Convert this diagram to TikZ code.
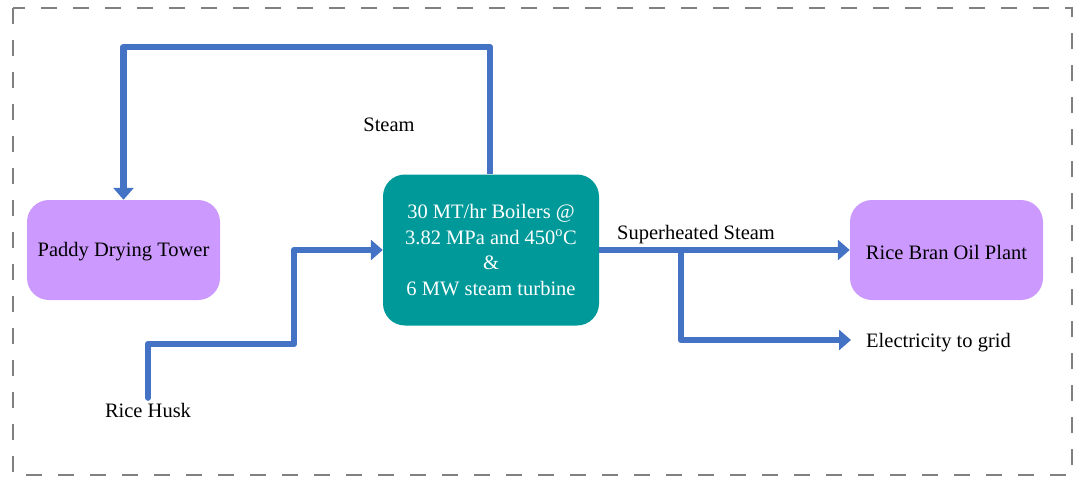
\documentclass[tikz,border=0pt]{standalone}
\usepackage{fontspec}
\setmainfont{Liberation Serif}
\usetikzlibrary{arrows.meta}
\definecolor{flow}{RGB}{68,114,196}
\definecolor{lilac}{RGB}{204,153,255}
\definecolor{tealbox}{RGB}{0,153,153}
\definecolor{frame}{RGB}{128,128,128}
\begin{document}
\begin{tikzpicture}[x=1pt,y=-1pt,
  box/.style={rounded corners=22pt, inner sep=0pt, align=center,
    font=\fontsize{20.5}{25}\selectfont},
  lbl/.style={font=\fontsize{20.5}{25}\selectfont, inner sep=0pt},
  flowline/.style={draw=flow, line width=6.5pt, line join=round,
    -{Triangle[width=20pt,length=12pt]}}]
\useasboundingbox (0,0) rectangle (1073,477);
\draw[frame, line width=1.5pt, dash pattern=on 16pt off 16pt] (13,8) rectangle (1072,475);

\node[box, fill=lilac, minimum width=193pt, minimum height=100pt] (paddy) at (123.5,250) {\raisebox{-2pt}[\height][\depth]{Paddy Drying Tower}};
\node[box, fill=tealbox, text=white, minimum width=216pt, minimum height=151pt] (boiler) at (491,250)
  {\raisebox{-2pt}[\height][\depth]{\begin{tabular}{@{}c@{}}30 MT/hr Boilers @\\[0.7pt]3.82 MPa and 450\textsuperscript{o}C\\[0.7pt]\&\\[0.7pt]6 MW steam turbine\end{tabular}}};
\node[box, fill=lilac, minimum width=193pt, minimum height=100pt] (rbo) at (946.5,250) {\raisebox{-2pt}[\height][\depth]{Rice Bran Oil Plant}};

\node[lbl] (steam) at (389,125) {Steam};
\node[lbl, anchor=west] (sh) at (617,234.5) {Superheated Steam};
\node[lbl, anchor=west] (elec) at (866,342.5) {Electricity to grid};
\node[lbl] (husk) at (148,410) {Rice Husk};

\coordinate (top) at (490,47);
\coordinate (hk1) at (294,344);
\coordinate (br) at (681,250);
\coordinate (el) at (866,340);

\draw[flowline] (boiler.north -| top) -- (top) -- (paddy.north |- top) -- (paddy.north);
\draw[flowline, line cap=round, shorten <=5pt] (husk.north) -- (husk.north |- hk1) -- (hk1) -- (hk1 |- boiler.west) -- (boiler.west);
\draw[flowline] (boiler.east) -- (rbo.west);
\draw[flowline, shorten >=15pt] (br |- boiler.east) -- (br |- el) -- (el);
\end{tikzpicture}
\end{document}
